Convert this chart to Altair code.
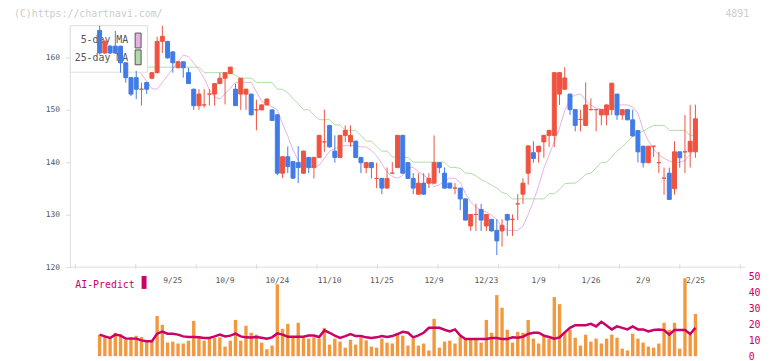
import altair as alt
import pandas as pd

# ---------------- data ----------------
date_labels = ["9/25", "10/9", "10/24", "11/10", "11/25", "12/9", "12/23", "1/9", "1/26", "2/9", "2/25"]
label_index = [14, 24, 34, 44, 54, 64, 74, 84, 94, 104, 114]

opens = [165.1, 160.8, 162.1, 162.1, 162.08, 158.93, 156.1, 156.1, 153.9, 155.16,
         155.99, 157.05, 163.02, 163.0, 161.0, 157.99, 159.12, 157.05, 153.9, 150.77,
         150.9, 152.97, 152.97, 154.97, 155.99, 156.86, 153.9, 152.97, 152.97, 152.97,
         149.96, 149.96, 150.9, 149.96, 149.02, 137.9, 141.03, 140.1, 139.9, 137.9,
         140.9, 138.96, 140.9, 143.86, 147.0, 142.1, 140.9, 145.1, 143.86, 144.0,
         140.9, 138.96, 139.9, 136.9, 136.9, 135.06, 137.9, 138.96, 145.1, 139.9,
         136.9, 133.9, 136.0, 136.0, 136.0, 139.9, 137.9, 136.0, 135.06, 135.06,
         133.0, 127.84, 130.04, 130.98, 127.84, 129.1, 127.0, 126.9, 130.04, 129.1,
         132.05, 133.9, 137.9, 141.8, 141.97, 143.86, 145.1, 145.1, 152.97, 153.9,
         152.97, 150.01, 148.13, 147.0, 150.01, 150.01, 149.0, 149.0, 150.01, 152.97,
         149.0, 150.01, 148.06, 146.0, 143.04, 139.9, 143.04, 139.9, 136.95, 137.9,
         134.94, 141.97, 141.97, 141.97, 141.97]
closes = [160.8, 163.0, 160.8, 160.8, 158.93, 156.1, 152.97, 153.9, 153.9, 153.9,
          157.05, 163.0, 163.96, 159.87, 158.93, 159.12, 157.99, 154.97, 150.77, 152.97,
          150.9, 152.97, 154.97, 155.99, 157.05, 158.1, 150.77, 155.99, 153.9, 149.02,
          149.96, 150.9, 152.03, 147.95, 137.9, 141.03, 139.15, 136.96, 138.96, 142.1,
          138.96, 140.9, 145.1, 143.86, 142.9, 140.9, 145.1, 146.06, 145.1, 140.9,
          139.9, 139.9, 138.96, 136.9, 135.06, 136.9, 137.9, 145.1, 137.9, 136.9,
          135.06, 136.0, 133.9, 136.9, 139.9, 138.96, 135.06, 135.06, 135.06, 133.0,
          128.97, 130.04, 130.04, 128.97, 130.04, 126.9, 125.0, 127.97, 128.97, 129.1,
          132.05, 136.0, 143.1, 140.7, 143.04, 145.1, 146.06, 157.05, 157.05, 156.04,
          150.01, 147.0, 148.13, 150.9, 150.01, 150.01, 150.01, 150.9, 155.04, 149.0,
          150.01, 148.06, 144.99, 141.97, 139.9, 143.04, 143.04, 139.9, 136.95, 132.9,
          141.97, 140.84, 141.97, 143.98, 148.26]
highs = [166.0, 163.3, 162.3, 165.0, 162.2, 159.0, 156.2, 157.4, 155.16, 155.3,
         157.2, 163.9, 166.0, 163.1, 161.1, 159.2, 159.2, 157.99, 154.0, 153.9,
         153.9, 153.9, 155.0, 157.05, 157.1, 158.2, 154.97, 156.0, 154.0, 153.0,
         151.9, 151.0, 152.1, 150.0, 149.1, 141.1, 143.0, 140.2, 143.04, 142.2,
         141.0, 141.0, 145.2, 150.0, 147.1, 145.1, 145.2, 147.0, 147.0, 144.1,
         141.0, 140.0, 140.0, 139.9, 137.0, 139.0, 140.0, 145.2, 145.2, 140.0,
         137.9, 137.9, 137.9, 137.9, 145.1, 140.0, 139.0, 136.1, 136.0, 135.1,
         133.1, 130.1, 132.05, 132.05, 130.1, 129.2, 129.1, 129.1, 130.1, 130.04,
         133.9, 136.95, 143.2, 143.98, 143.1, 145.2, 146.1, 157.1, 157.1, 158.1,
         153.0, 150.1, 150.01, 155.2, 152.15, 150.1, 150.1, 151.0, 155.1, 153.0,
         150.1, 150.1, 150.01, 146.1, 143.1, 143.1, 143.1, 141.97, 138.96, 138.96,
         143.98, 142.0, 149.0, 150.9, 150.96]
lows = [160.5, 160.6, 160.6, 160.6, 157.05, 155.16, 152.6, 152.0, 150.77, 153.0,
        155.8, 156.9, 160.8, 159.7, 157.05, 157.9, 156.1, 154.9, 149.96, 149.96,
        150.4, 150.77, 150.77, 154.9, 151.0, 156.8, 150.7, 149.96, 149.96, 148.9,
        146.07, 149.9, 150.8, 147.9, 137.5, 136.96, 137.9, 136.8, 136.0, 137.8,
        137.9, 136.9, 140.8, 141.97, 142.8, 139.9, 140.8, 143.86, 142.9, 140.8,
        137.9, 137.9, 136.9, 135.06, 133.9, 135.0, 137.8, 138.9, 137.8, 136.8,
        133.9, 133.8, 133.8, 135.06, 135.9, 137.9, 135.0, 135.0, 133.9, 130.86,
        128.9, 126.9, 126.9, 126.9, 126.9, 126.8, 122.3, 123.9, 125.96, 125.96,
        128.97, 132.05, 135.7, 139.9, 139.9, 140.84, 142.9, 142.9, 150.9, 153.8,
        149.0, 145.87, 145.87, 146.9, 149.9, 145.87, 147.0, 147.0, 149.0, 148.06,
        148.06, 148.0, 144.9, 139.96, 138.96, 139.8, 141.0, 137.9, 133.8, 132.8,
        133.8, 138.96, 137.9, 138.96, 140.84]
ma5 = [162.5, 162.5, 162.3, 162.0, 161.5, 160.0, 158.6, 158.0, 156.8, 155.4,
       154.0, 153.9, 155.2, 156.5, 157.8, 159.1, 160.4, 160.1, 158.9, 157.6,
       156.0, 153.8, 152.4, 152.05, 153.0, 154.1, 155.2, 155.2, 155.2, 155.2,
       153.4, 151.6, 151.1, 150.5, 150.0, 147.3, 145.0, 142.3, 140.3, 139.4,
       139.0, 139.0, 139.4, 140.7, 142.1, 142.6, 142.95, 143.2, 143.2, 143.05,
       142.9, 142.9, 142.2, 141.2, 139.7, 138.1, 137.25, 136.95, 137.5, 139.0,
       139.0, 138.2, 137.5, 136.85, 135.3, 135.7, 136.4, 136.95, 136.95, 136.15,
       134.0, 132.4, 131.4, 130.85, 130.5, 129.9, 129.1, 127.6, 127.0, 127.0,
       127.0, 127.8, 130.0, 132.5, 135.5, 138.8, 141.35, 143.9, 146.55, 149.8,
       152.2, 152.8, 152.97, 151.8, 150.8, 150.3, 150.1, 150.0, 150.5, 150.9,
       150.9, 150.9, 150.5, 149.3, 146.2, 144.1, 142.45, 141.4, 140.75, 140.2,
       139.96, 139.96, 140.35, 141.5, 142.8]
ma25 = [158.1, 158.1, 158.1, 158.1, 158.1, 158.1, 158.1, 158.1, 158.1, 158.1,
        158.1, 158.1, 158.1, 158.1, 158.1, 158.1, 158.1, 158.1, 158.1, 158.1,
        157.05, 157.05, 157.05, 157.05, 157.05, 157.05, 156.5, 156.0, 156.0, 156.0,
        155.2, 155.16, 155.16, 155.16, 153.9, 153.9, 153.2, 152.1, 151.1, 150.0,
        150.0, 149.0, 148.1, 148.1, 148.1, 147.1, 147.1, 146.1, 146.06, 146.06,
        145.1, 144.0, 144.0, 143.0, 142.1, 142.1, 141.0, 140.9, 140.9, 140.9,
        140.0, 140.0, 140.0, 140.0, 140.0, 140.0, 140.0, 139.0, 139.0, 138.8,
        137.9, 137.9, 137.4, 136.7, 136.2, 135.6, 135.07, 134.25, 133.9, 133.0,
        133.0, 133.0, 133.0, 133.0, 133.0, 133.0, 134.0, 134.0, 134.8, 135.9,
        136.0, 136.0, 136.7, 137.7, 137.9, 138.9, 139.97, 139.97, 141.0, 142.1,
        142.9, 143.9, 144.9, 145.5, 145.9, 146.5, 147.0, 147.0, 147.0, 146.06,
        146.06, 146.06, 146.06, 145.1, 145.1]
volume = [13.6, 12.5, 11.5, 14.8, 14.0, 10.4, 12.1, 12.9, 12.1, 10.0,
          10.0, 25.4, 19.8, 8.6, 9.2, 8.0, 8.0, 9.8, 22.3, 12.5,
          9.8, 11.1, 11.5, 11.9, 6.1, 9.8, 22.9, 9.8, 19.2, 14.8,
          13.6, 8.6, 4.4, 6.7, 45.4, 17.3, 20.4, 11.9, 21.1, 11.9,
          11.1, 11.9, 11.1, 17.9, 7.3, 11.1, 9.2, 5.4, 10.4, 7.3,
          11.9, 10.0, 6.1, 5.4, 11.1, 8.6, 8.0, 13.6, 13.0, 6.7,
          11.1, 6.7, 8.0, 3.6, 23.6, 5.4, 9.2, 9.8, 8.0, 12.3,
          11.1, 11.1, 10.4, 8.6, 22.9, 14.8, 38.6, 30.6, 16.7, 8.6,
          15.4, 14.8, 22.9, 11.1, 8.0, 13.6, 11.1, 37.3, 32.9, 15.4,
          16.7, 11.7, 6.7, 13.6, 9.2, 11.1, 8.0, 11.1, 13.6, 11.7,
          4.8, 3.6, 14.2, 11.1, 8.6, 6.1, 5.4, 8.0, 21.1, 16.7,
          21.1, 4.8, 49.2, 13.6, 26.7]
ai_predict = [13.6, 12.5, 11.5, 13.6, 13.0, 11.1, 11.1, 11.1, 10.0, 9.4,
              9.4, 14.2, 15.6, 14.2, 14.2, 13.6, 12.5, 12.1, 12.1, 11.9,
              11.5, 11.5, 12.5, 13.6, 12.5, 13.0, 14.2, 12.5, 11.9, 11.8,
              12.1, 11.7, 11.1, 11.9, 14.4, 13.6, 12.3, 12.3, 12.3, 12.3,
              13.1, 13.1, 12.1, 16.3, 14.8, 13.0, 11.5, 12.7, 14.0, 12.7,
              12.7, 11.9, 11.5, 11.9, 12.7, 12.1, 12.7, 14.0, 15.4, 14.8,
              11.9, 13.1, 14.8, 17.9, 17.9, 17.9, 16.7, 15.6, 16.9, 13.1,
              10.9, 10.9, 10.9, 10.9, 10.9, 11.5, 11.5, 10.9, 10.9, 11.9,
              11.7, 12.3, 14.0, 14.8, 14.8, 13.0, 12.1, 11.1, 11.9, 15.0,
              17.9, 19.6, 19.6, 19.6, 20.4, 18.8, 21.7, 19.4, 16.9, 18.8,
              17.9, 16.9, 18.8, 16.9, 16.9, 15.6, 16.5, 16.9, 16.5, 13.6,
              16.5, 16.5, 16.5, 14.0, 18.0]

price_ticks = [120, 130, 140, 150, 160]
ai_ticks = [0, 10, 20, 30, 40, 50]

# ---------------- styling ----------------
FONT = "DejaVu Sans Mono"
RED = "#EF5340"
BLUE = "#417BE6"
PINK = "#E6B2E6"
GREEN = "#B0DCA6"
ORANGE = "#F2993F"
CRIMSON = "#CC0066"
GRID = "#DDDDDD"

W, H = 682, 334
PANEL_H = 244
X_DOM = [-4.66, 122.58]
x_ticks = [X_DOM[0] + k * (X_DOM[1] - X_DOM[0]) / 11 for k in range(12)]

n = len(closes)
df = pd.DataFrame({
    "idx": list(range(n)),
    "open": opens, "close": closes, "high": highs, "low": lows,
    "ma5": ma5, "ma25": ma25, "vol": volume, "ai": ai_predict,
})
df["dir"] = ["up" if c >= o else "down" for o, c in zip(opens, closes)]

xs = alt.Scale(domain=X_DOM, nice=False, zero=False)
ps = alt.Scale(domain=[120, 166], range=[PANEL_H, 0], nice=False, zero=False)
vs = alt.Scale(domain=[0, 50], range=[H, H - 80], nice=False, zero=False)
cs = alt.Scale(domain=["up", "down"], range=[RED, BLUE])

base = alt.Chart(df)
x_plain = alt.X("idx:Q", scale=xs, axis=None)

ma25_line = base.mark_line(color=GREEN, strokeWidth=1).encode(
    x=x_plain,
    y=alt.Y("ma25:Q", scale=ps, axis=alt.Axis(
        values=price_ticks, title=None, tickSize=5, tickColor=GRID, domain=False,
        grid=False, labelFont=FONT, labelFontSize=8, labelColor="#555555",
        labelPadding=6)),
)
ma5_line = base.mark_line(color=PINK, strokeWidth=1).encode(
    x=x_plain, y=alt.Y("ma5:Q", scale=ps))

one = alt.Chart(pd.DataFrame({"k": [0]}))
# axis lines of the price panel
y_axis_line = one.mark_rule(color=GRID, strokeWidth=1).encode(
    x=alt.value(0), y=alt.value(0), y2=alt.value(PANEL_H))
x_axis_line = one.mark_rule(color=GRID, strokeWidth=1).encode(
    x=alt.value(0), x2=alt.value(W), y=alt.value(PANEL_H))
tick_df = pd.DataFrame({"t": x_ticks})
x_axis_ticks = alt.Chart(tick_df).mark_rule(color=GRID, strokeWidth=1).encode(
    x=alt.X("t:Q", scale=xs, axis=None), y=alt.value(PANEL_H - 3), y2=alt.value(PANEL_H + 2))

legend_box = one.mark_rect(fill="white", stroke=GRID, strokeWidth=1).encode(
    x=alt.value(0), x2=alt.value(78), y=alt.value(0), y2=alt.value(47))
sw1 = one.mark_rect(fill=PINK, stroke="#555555", strokeWidth=1).encode(
    x=alt.value(65.5), x2=alt.value(71.5), y=alt.value(7.5), y2=alt.value(22.5))
sw2 = one.mark_rect(fill=GREEN, stroke="#555555", strokeWidth=1).encode(
    x=alt.value(65.5), x2=alt.value(71.5), y=alt.value(24.5), y2=alt.value(39.5))
lt1 = one.mark_text(font=FONT, fontSize=10, color="#555555", align="right", baseline="middle").encode(
    x=alt.value(58.5), y=alt.value(15), text=alt.value("5-day MA"))
lt2 = one.mark_text(font=FONT, fontSize=10, color="#555555", align="right", baseline="middle").encode(
    x=alt.value(58.5), y=alt.value(32.5), text=alt.value("25-day MA"))

wicks = base.mark_rule(strokeWidth=1).encode(
    x=x_plain, y=alt.Y("low:Q", scale=ps), y2="high:Q",
    color=alt.Color("dir:N", scale=cs, legend=None))
bodies = base.mark_bar(size=4, strokeWidth=1).encode(
    x=x_plain, y=alt.Y("open:Q", scale=ps), y2="close:Q",
    color=alt.Color("dir:N", scale=cs, legend=None),
    stroke=alt.Stroke("dir:N", scale=cs, legend=None))

lbl_df = pd.DataFrame({"idx": label_index, "lbl": date_labels})
date_text = alt.Chart(lbl_df).mark_text(font=FONT, fontSize=8, color="#555555",
                                        baseline="middle", align="center").encode(
    x=alt.X("idx:Q", scale=xs, axis=None), y=alt.value(258), text="lbl:N")

copy_text = one.mark_text(font=FONT, fontSize=10, color="#CCCCCC", align="left", baseline="middle").encode(
    x=alt.value(-57), y=alt.value(-12), text=alt.value("(C)https://chartnavi.com/"))
code_text = one.mark_text(font=FONT, fontSize=10, color="#CCCCCC", align="right", baseline="middle").encode(
    x=alt.value(686), y=alt.value(-12), text=alt.value("4891"))
ai_text = one.mark_text(font=FONT, fontSize=10, color=CRIMSON, align="left", baseline="middle").encode(
    x=alt.value(5), y=alt.value(262), text=alt.value("AI-Predict"))
ai_sw = one.mark_rect(fill=CRIMSON).encode(
    x=alt.value(72), x2=alt.value(77), y=alt.value(253), y2=alt.value(266))

price_group = alt.layer(ma25_line, ma5_line, y_axis_line, x_axis_line, x_axis_ticks,
                        legend_box, sw1, sw2, lt1, lt2,
                        wicks, bodies, date_text, copy_text, code_text, ai_text, ai_sw)

vol_bars = base.mark_bar(size=3.4, color=ORANGE).encode(
    x=x_plain,
    y=alt.Y("vol:Q", scale=vs, axis=alt.Axis(
        orient="right", values=ai_ticks, title=None, domain=False, ticks=False,
        grid=False, labelFont=FONT, labelFontSize=10, labelColor=CRIMSON,
        labelPadding=3)))
ai_line = base.mark_line(color=CRIMSON, strokeWidth=2.5).encode(
    x=x_plain, y=alt.Y("ai:Q", scale=vs))
vol_group = alt.layer(vol_bars, ai_line)

chart = alt.layer(price_group, vol_group).resolve_scale(
    y="independent", color="independent"
).properties(
    width=W, height=H, autosize="none",
    padding={"left": 63, "top": 16, "right": 19, "bottom": 4},
    view=alt.ViewBackground(stroke="transparent", strokeWidth=0),
).configure_view(strokeWidth=0, stroke="transparent").configure(background="white")

chart.save("out.html", embed_options={"renderer": "svg", "actions": False})
